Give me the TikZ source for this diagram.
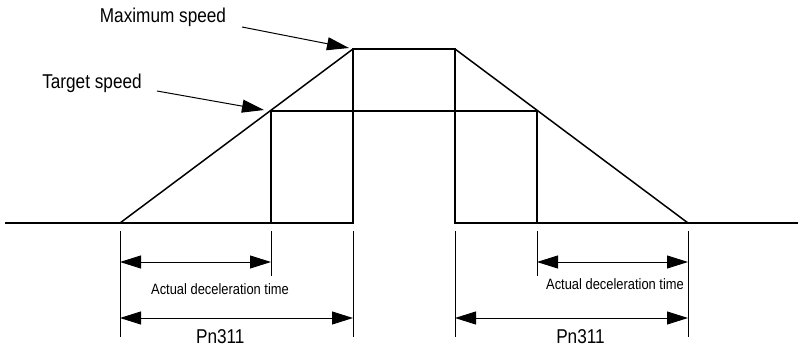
\documentclass[tikz,border=0pt]{standalone}
\usepackage{fontspec}
\setmainfont{Liberation Sans}[FakeStretch=0.86]
\usepackage{tikz}
\usetikzlibrary{arrows.meta,positioning}
\tikzset{
    profile/.style = {line width=1.5pt, line join=miter},
    extline/.style = {line width=0.9pt},
    dimarrow/.style = {line width=0.9pt, {Triangle[length=21pt,width=13pt]}-{Triangle[length=21pt,width=13pt]}},
    pointer/.style = {line width=1pt, -{Triangle[length=22pt,width=13pt]}},
    biglabel/.style = {font=\fontsize{20}{24}\selectfont, inner sep=0pt, anchor=base},
    smalllabel/.style = {font=\fontsize{15}{18}\selectfont, inner sep=0pt, anchor=base}
}

\begin{document}
\begin{tikzpicture}[x=1pt, y=-1pt]
    \useasboundingbox (0,0) rectangle (798,347);

    % speed profile points
    \coordinate (start) at (5,223);
    \coordinate (rampup) at (120,223);
    \coordinate (tgtup) at (271,111);
    \coordinate (tgtupbase) at (271,223);
    \coordinate (maxup) at (353,49);
    \coordinate (maxupbase) at (353,223);
    \coordinate (maxdown) at (455,49);
    \coordinate (maxdownbase) at (455,223);
    \coordinate (tgtdown) at (537,111);
    \coordinate (tgtdownbase) at (537,223);
    \coordinate (rampdown) at (688,223);
    \coordinate (finish) at (798,223);

    \draw [profile] (start) -- (maxupbase) -- (maxup) -- (maxdown) -- (maxdownbase) -- (finish);
    \draw [profile] (rampup) -- (maxup);
    \draw [profile] (maxdown) -- (rampdown);
    \draw [profile] (tgtupbase) -- (tgtup) -- (tgtdown) -- (tgtdownbase);

    % labels with pointers
    \node [biglabel] (maxlabel) at (163,22.7) {Maximum speed};
    \node [biglabel] (tgtlabel) at (92,88.3) {Target speed};
    \coordinate (maxtail) at (242,27);
    \coordinate (maxtip) at (349,48);
    \coordinate (tgttail) at (157,91);
    \coordinate (tgttip) at (264,110);
    \draw [pointer] (maxtail) -- (maxtip);
    \draw [pointer] (tgttail) -- (tgttip);

    % extension lines
    \coordinate (extA) at (120,231);  \coordinate (extAend) at (120,337);
    \coordinate (extB) at (353,231);  \coordinate (extBend) at (353,337);
    \coordinate (extC) at (455,231);  \coordinate (extCend) at (455,337);
    \coordinate (extD) at (688,231);  \coordinate (extDend) at (688,337);
    \coordinate (extE) at (271,231);  \coordinate (extEend) at (271,276);
    \coordinate (extF) at (537,231);  \coordinate (extFend) at (537,276);
    \draw [extline] (extA) -- (extAend);
    \draw [extline] (extB) -- (extBend);
    \draw [extline] (extC) -- (extCend);
    \draw [extline] (extD) -- (extDend);
    \draw [extline] (extE) -- (extEend);
    \draw [extline] (extF) -- (extFend);

    % dimension arrows
    \coordinate (actL1) at (120,262);  \coordinate (actL2) at (271,262);
    \coordinate (actR1) at (537,262);  \coordinate (actR2) at (688,262);
    \coordinate (pnL1) at (120,318);   \coordinate (pnL2) at (353,318);
    \coordinate (pnR1) at (455,318);   \coordinate (pnR2) at (688,318);
    \draw [dimarrow] (actL1) -- (actL2);
    \draw [dimarrow] (actR1) -- (actR2);
    \draw [dimarrow] (pnL1) -- (pnL2);
    \draw [dimarrow] (pnR1) -- (pnR2);

    \node [smalllabel] (actlabelL) at (220,295) {Actual deceleration time};
    \node [smalllabel] (actlabelR) at (615,290) {Actual deceleration time};
    \node [biglabel] (pnlabelL) at (220.3,343.5) {Pn311};
    \node [biglabel] (pnlabelR) at (580.5,343.5) {Pn311};
\end{tikzpicture}
\end{document}
